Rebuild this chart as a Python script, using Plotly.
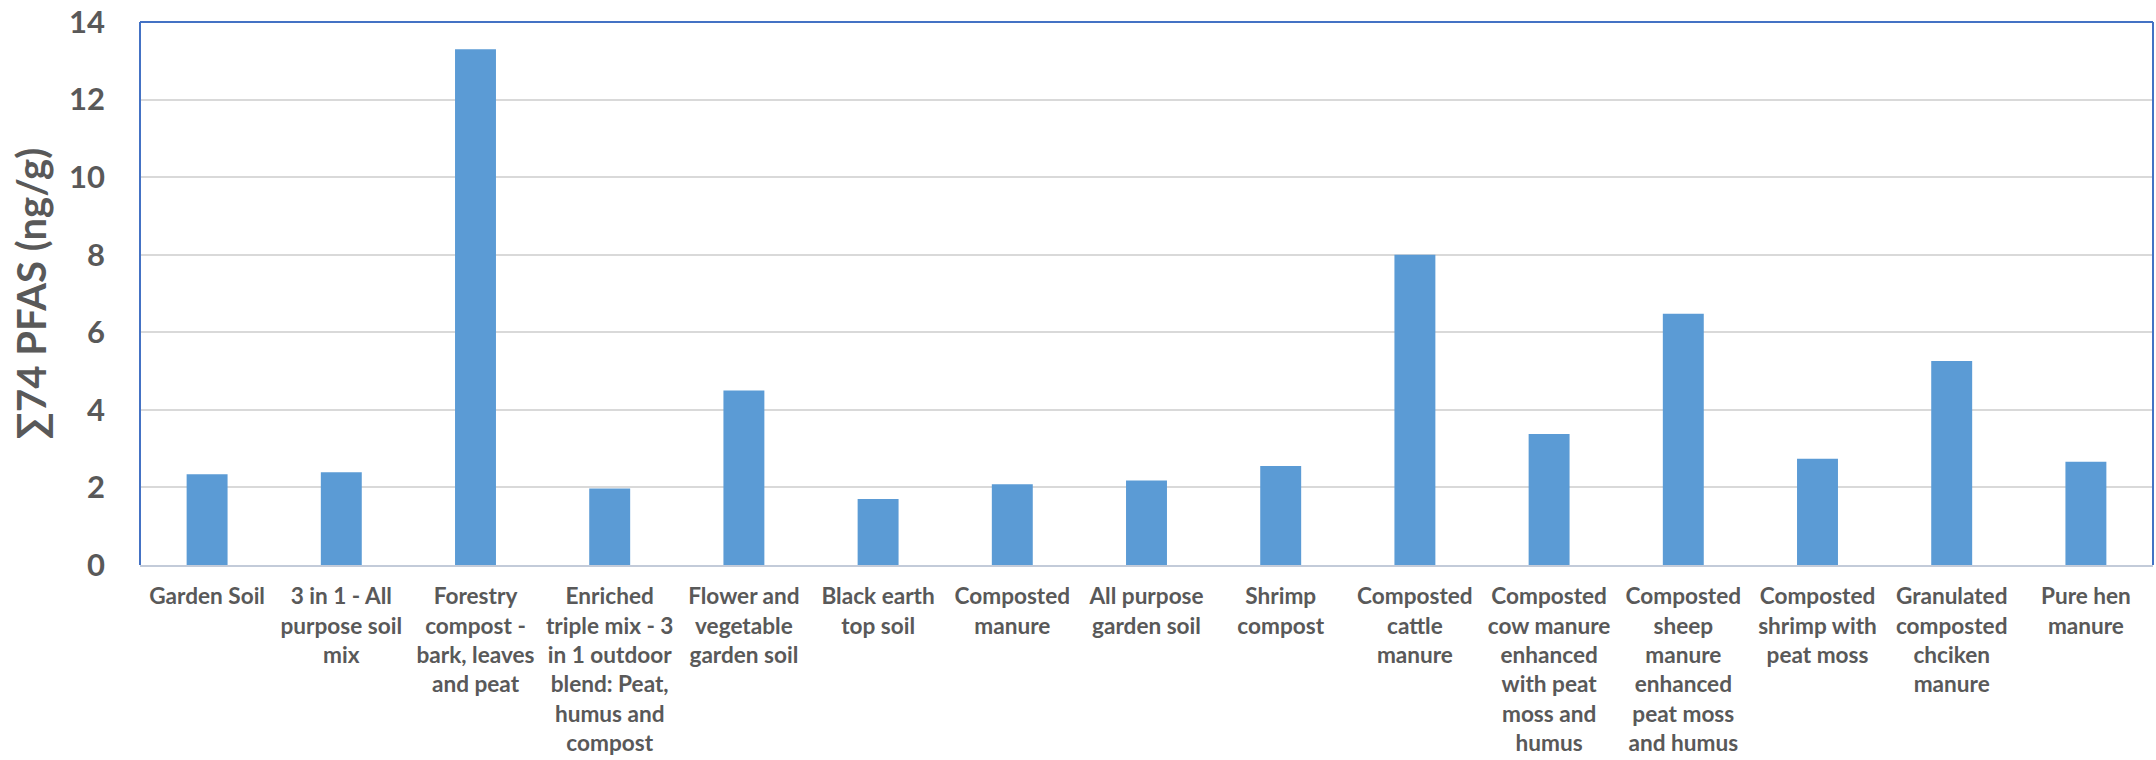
import plotly.graph_objects as go

# Product names (line breaks as they wrap under each bar)
categories = [
    "Garden Soil",
    "3 in 1 - All<br>purpose soil<br>mix",
    "Forestry<br>compost -<br>bark, leaves<br>and peat",
    "Enriched<br>triple mix - 3<br>in 1 outdoor<br>blend: Peat,<br>humus and<br>compost",
    "Flower and<br>vegetable<br>garden soil",
    "Black earth<br>top soil",
    "Composted<br>manure",
    "All purpose<br>garden soil",
    "Shrimp<br>compost",
    "Composted<br>cattle<br>manure",
    "Composted<br>cow manure<br>enhanced<br>with peat<br>moss and<br>humus",
    "Composted<br>sheep<br>manure<br>enhanced<br>peat moss<br>and humus",
    "Composted<br>shrimp with<br>peat moss",
    "Granulated<br>composted<br>chciken<br>manure",
    "Pure hen<br>manure",
]

# Sum of 74 PFAS, ng/g
pfas_total = [2.34, 2.39, 13.3, 1.97, 4.5, 1.7, 2.08, 2.18, 2.55,
              8.0, 3.38, 6.48, 2.74, 5.26, 2.66]

y_ticks = [0, 2, 4, 6, 8, 10, 12, 14]

TEXT_GREY = "#595959"
BAR_BLUE = "#5B9BD5"
FRAME_BLUE = "#4472C4"

fig = go.Figure()
fig.add_bar(
    x=categories,
    y=pfas_total,
    marker=dict(color=BAR_BLUE, line=dict(width=0)),
)

fig.update_layout(
    width=2156,
    height=760,
    margin=dict(l=140, r=3, t=22, b=195),
    paper_bgcolor="white",
    plot_bgcolor="white",
    bargap=0.695,
    showlegend=False,
    xaxis=dict(
        type="category",
        showgrid=False,
        showline=True,
        linecolor="#C3CBD9",
        linewidth=2,
        ticks="",
        ticklabelstandoff=10,
        tickangle=0,
        tickfont=dict(family="Lato", size=22.6, color=TEXT_GREY, weight="bold"),
    ),
    yaxis=dict(
        range=[0, 14],
        tickvals=y_ticks,
        showgrid=True,
        gridcolor="#D9D9D9",
        gridwidth=1.5,
        zeroline=False,
        showline=False,
        ticks="",
        ticklabelstandoff=34,
        tickfont=dict(family="Lato", size=31, color=TEXT_GREY, weight="bold"),
        title=dict(
            text="∑74 PFAS (ng/g)",
            standoff=10,
            font=dict(family="Lato", size=40, color=TEXT_GREY, weight="bold"),
        ),
    ),
)

# Blue frame along the top, left and right edges of the plotting area
for x0, y0, x1, y1 in [(0, 0, 0, 1), (0, 1, 1, 1), (1, 0, 1, 1)]:
    fig.add_shape(
        type="line", xref="paper", yref="paper",
        x0=x0, y0=y0, x1=x1, y1=y1,
        line=dict(color=FRAME_BLUE, width=2),
        layer="above",
    )

fig.write_html("out.html")
